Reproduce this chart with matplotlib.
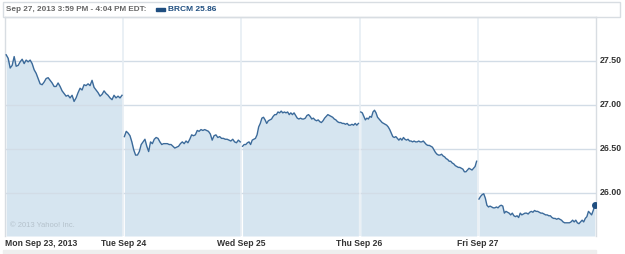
import matplotlib.pyplot as plt
import numpy as np
from matplotlib.patches import Rectangle

# intraday prices, one list per trading day (equally spaced through the session)
mon = [27.57, 27.53, 27.42, 27.45, 27.55, 27.44, 27.45, 27.49, 27.52, 27.47,
       27.51, 27.49, 27.51, 27.47, 27.40, 27.36, 27.30, 27.24, 27.23, 27.26,
       27.30, 27.31, 27.28, 27.25, 27.21, 27.21, 27.25, 27.21, 27.16, 27.13,
       27.10, 27.11, 27.08, 27.11, 27.04, 27.08, 27.14, 27.19, 27.17, 27.23,
       27.22, 27.24, 27.22, 27.28, 27.20, 27.17, 27.14, 27.10, 27.12, 27.16,
       27.13, 27.11, 27.08, 27.06, 27.11, 27.08, 27.10, 27.08, 27.11]
tue = [26.64, 26.70, 26.68, 26.65, 26.58, 26.49, 26.43, 26.43, 26.47, 26.55,
       26.58, 26.61, 26.53, 26.47, 26.58, 26.56, 26.61, 26.63, 26.62, 26.58,
       26.55, 26.56, 26.56, 26.56, 26.55, 26.55, 26.53, 26.51, 26.52, 26.53,
       26.56, 26.58, 26.56, 26.59, 26.57, 26.61, 26.66, 26.65, 26.66, 26.71,
       26.70, 26.72, 26.71, 26.72, 26.71, 26.70, 26.67, 26.60, 26.65, 26.66,
       26.63, 26.64, 26.62, 26.62, 26.61, 26.61, 26.60, 26.59, 26.61, 26.58,
       26.57, 26.60, 26.58]
wed = [26.53, 26.55, 26.55, 26.57, 26.58, 26.55, 26.60, 26.61, 26.62, 26.66,
       26.75, 26.79, 26.85, 26.86, 26.83, 26.79, 26.82, 26.83, 26.84, 26.87,
       26.89, 26.89, 26.92, 26.91, 26.93, 26.91, 26.92, 26.91, 26.92, 26.89,
       26.91, 26.89, 26.91, 26.88, 26.85, 26.84, 26.85, 26.84, 26.84, 26.85,
       26.88, 26.89, 26.87, 26.84, 26.85, 26.83, 26.82, 26.83, 26.81, 26.80,
       26.82, 26.85, 26.87, 26.89, 26.88, 26.87, 26.86, 26.84, 26.83, 26.81,
       26.80, 26.80, 26.79, 26.79, 26.78, 26.79, 26.77, 26.77, 26.78, 26.77,
       26.79, 26.77, 26.79]
thu = [26.92, 26.91, 26.87, 26.83, 26.85, 26.84, 26.87, 26.86, 26.92, 26.94,
       26.91, 26.86, 26.84, 26.82, 26.80, 26.79, 26.78, 26.77, 26.75, 26.72,
       26.68, 26.64, 26.63, 26.64, 26.62, 26.60, 26.62, 26.60, 26.63, 26.61,
       26.60, 26.61, 26.59, 26.59, 26.58, 26.59, 26.58, 26.58, 26.59, 26.58,
       26.58, 26.59, 26.57, 26.55, 26.54, 26.54, 26.53, 26.52, 26.49, 26.46,
       26.44, 26.43, 26.43, 26.44, 26.42, 26.41, 26.39, 26.38, 26.36, 26.36,
       26.34, 26.33, 26.31, 26.30, 26.29, 26.29, 26.28, 26.27, 26.24, 26.24,
       26.26, 26.28, 26.27, 26.26, 26.28, 26.30, 26.36]
fri = [25.93, 25.96, 25.98, 25.99, 25.94, 25.86, 25.84, 25.85, 25.84, 25.83,
       25.83, 25.84, 25.83, 25.85, 25.86, 25.85, 25.77, 25.79, 25.78, 25.77,
       25.75, 25.77, 25.74, 25.73, 25.74, 25.72, 25.77, 25.75, 25.76, 25.77,
       25.77, 25.76, 25.78, 25.79, 25.78, 25.80, 25.79, 25.79, 25.78, 25.77,
       25.77, 25.76, 25.75, 25.75, 25.74, 25.74, 25.72, 25.71, 25.71, 25.70,
       25.71, 25.70, 25.69, 25.67, 25.66, 25.66, 25.66, 25.66, 25.67, 25.69,
       25.67, 25.69, 25.66, 25.65, 25.67, 25.69, 25.67, 25.71, 25.73, 25.79,
       25.77, 25.75, 25.80, 25.86]
days = [mon, tue, wed, thu, fri]
day_labels = ["Mon Sep 23, 2013", "Tue Sep 24", "Wed Sep 25", "Thu Sep 26", "Fri Sep 27"]
yticks = [26.00, 26.50, 27.00, 27.50]
ymin, ymax = 25.51, 28.0

line_c = "#3b6a9a"
fill_c = "#d6e5f0"
grid_c = "#d2dce6"
font = "Liberation Sans"

fig = plt.figure(figsize=(6.25, 2.54), dpi=100)
ax = fig.add_axes([5 / 625, 1 - 236 / 254, 591 / 625, 219 / 254])

for i, d in enumerate(days):
    x = np.linspace(i + 0.01, i + 0.99, len(d))
    ax.fill_between(x, d, ymin, color=fill_c, lw=0, zorder=1)
    ax.plot(x, d, color=line_c, lw=1.0, zorder=3)
    if i == len(days) - 1:
        ax.plot(x[-1], d[-1], "o", color="#1f4e80", ms=4, zorder=4)

for y in yticks:
    ax.axhline(y, color=grid_c, lw=1, zorder=2)
for i in range(1, 5):
    ax.axvline(i, color="#e6edf3", lw=1.2, zorder=2)

ax.set_xlim(0, 5)
ax.set_ylim(ymin, ymax)
ax.set_xticks([])
ax.set_yticks([])
for s in ax.spines.values():
    s.set_color("#d8dde2")
    s.set_linewidth(1)
ax.spines["bottom"].set_visible(False)

tf = dict(family=font, fontweight="bold", color="#333333")
for y in yticks:
    ax.text(1.007, (y - ymin) / (ymax - ymin), f"{y:.2f}", transform=ax.transAxes,
            ha="left", va="center", fontsize=6.3, **tf)
for i, lab in enumerate(day_labels):
    ax.text(i, ymin - 0.03, lab, ha="left" if i == 0 else "center", va="top",
            clip_on=False, fontsize=6.2, **tf)

ax.text(0.008, 0.04, "\u00a9 2013 Yahoo! Inc.", transform=ax.transAxes,
        family=font, fontsize=5.5, color="#b5c2cc")

# header bar
fig.patches.append(Rectangle((3 / 625, 1 - 17 / 254), 617 / 625, 15 / 254,
                             transform=fig.transFigure, fill=False,
                             ec="#d8dde2", lw=1))
fig.text(6 / 625, 1 - 9.5 / 254, "Sep 27, 2013 3:59 PM - 4:04 PM EDT:",
         family=font, fontsize=5.9, fontweight="bold", color="#666666", va="center")
fig.patches.append(Rectangle((156 / 625, 1 - 11 / 254), 9 / 625, 3 / 254,
                             transform=fig.transFigure, color="#1f4e80"))
fig.text(168 / 625, 1 - 9.5 / 254, "BRCM 25.86", family=font, fontsize=6.0,
         fontweight="bold", color="#1f4e80", va="center")

# bottom scroll strip
fig.patches.append(Rectangle((3 / 625, 0), 593 / 625, 4 / 254,
                             transform=fig.transFigure, color="#eeeeee"))

fig.savefig("out.png", dpi=100)
